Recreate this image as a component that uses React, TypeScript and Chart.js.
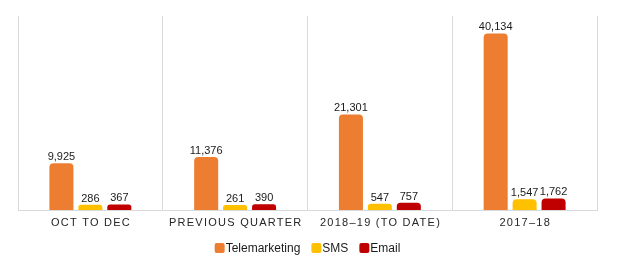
import React, { useEffect, useRef } from "react";
import { Chart, registerables } from "chart.js";

Chart.register(...registerables);

const categories = ["OCT TO DEC", "PREVIOUS QUARTER", "2018\u201319 (TO DATE)", "2017\u201318"];
const telemarketing = [9925, 11376, 21301, 40134];
const sms = [286, 261, 547, 1547];
const email = [367, 390, 757, 1762];
const seriesNames = ["Telemarketing", "SMS", "Email"];
const seriesColors = ["#ED7D31", "#FFC000", "#C00000"];

const FONT = "'Liberation Sans', Arial, sans-serif";
const BAR_BASE = -930;

const customPlugin = {
  id: "customDraw",
  afterDatasetsDraw(chart: any) {
    const ctx = chart.ctx;
    ctx.save();
    ctx.font = `11px ${FONT}`;
    ctx.fillStyle = "#1a1a1a";
    ctx.textAlign = "center";
    ctx.textBaseline = "alphabetic";
    chart.data.datasets.forEach((ds: any, di: number) => {
      const meta = chart.getDatasetMeta(di);
      meta.data.forEach((bar: any, i: number) => {
        const v = ds.data[i] as number;
        ctx.fillText(v.toLocaleString("en-US"), bar.x, bar.y - 3);
      });
    });
    ctx.restore();
  },
  afterDraw(chart: any) {
    const ctx = chart.ctx;
    const xScale = chart.scales.x;
    const area = chart.chartArea;
    ctx.save();
    // x labels with letter spacing
    const ls = 1.25;
    ctx.font = `11px ${FONT}`;
    ctx.fillStyle = "#262626";
    ctx.textAlign = "left";
    ctx.textBaseline = "middle";
    (ctx as any).letterSpacing = `${ls}px`;
    categories.forEach((c, i) => {
      const x = xScale.getPixelForValue(i);
      const w = ctx.measureText(c).width - ls;
      ctx.fillText(c, x - w / 2, area.bottom + 13);
    });
    (ctx as any).letterSpacing = "0px";
    // legend
    ctx.font = `12px ${FONT}`;
    const box = 10;
    const gapText = 1;
    const gapItem = 11;
    const widths = seriesNames.map((n) => ctx.measureText(n).width);
    const total = widths.reduce((a, w) => a + box + gapText + w, 0) + gapItem * (seriesNames.length - 1);
    let x = (area.left + area.right) / 2 - total / 2;
    const y = area.bottom + 38;
    seriesNames.forEach((n, i) => {
      ctx.fillStyle = seriesColors[i];
      ctx.beginPath();
      (ctx as any).roundRect(x, y - box / 2, box, box, 2);
      ctx.fill();
      ctx.fillStyle = "#1a1a1a";
      ctx.textBaseline = "middle";
      ctx.fillText(n, x + box + gapText, y + 0.5);
      x += box + gapText + widths[i] + gapItem;
    });
    ctx.restore();
  },
};

export default function App() {
  const ref = useRef<HTMLCanvasElement>(null);
  useEffect(() => {
    const datasets = [telemarketing, sms, email].map((d, i) => ({
      label: seriesNames[i],
      data: d,
      base: BAR_BASE,
      backgroundColor: seriesColors[i],
      borderRadius: { topLeft: 4, topRight: 4, bottomLeft: 0, bottomRight: 0 },
      borderSkipped: false as any,
      categoryPercentage: 0.6,
      barPercentage: 0.83,
    }));
    const chart = new Chart(ref.current as HTMLCanvasElement, {
      type: "bar",
      data: { labels: categories, datasets },
      options: {
        responsive: false,
        animation: false,
        layout: { padding: { left: 18, right: 23, top: 16, bottom: 51 } },
        plugins: { legend: { display: false }, tooltip: { enabled: false } },
        scales: {
          x: {
            display: true,
            grid: { color: "#D9D9D9", lineWidth: 1, drawTicks: false, offset: true },
            border: { color: "#D9D9D9" },
            ticks: { display: false },
          },
          y: { display: false, min: BAR_BASE, max: 44200 },
        },
      },
      plugins: [customPlugin],
    });
    return () => chart.destroy();
  }, []);
  return (
    <div style={{ position: "absolute", left: 0, top: 0, width: 620, height: 261, background: "#fff" }}>
      <canvas ref={ref} width={620} height={261} />
    </div>
  );
}
